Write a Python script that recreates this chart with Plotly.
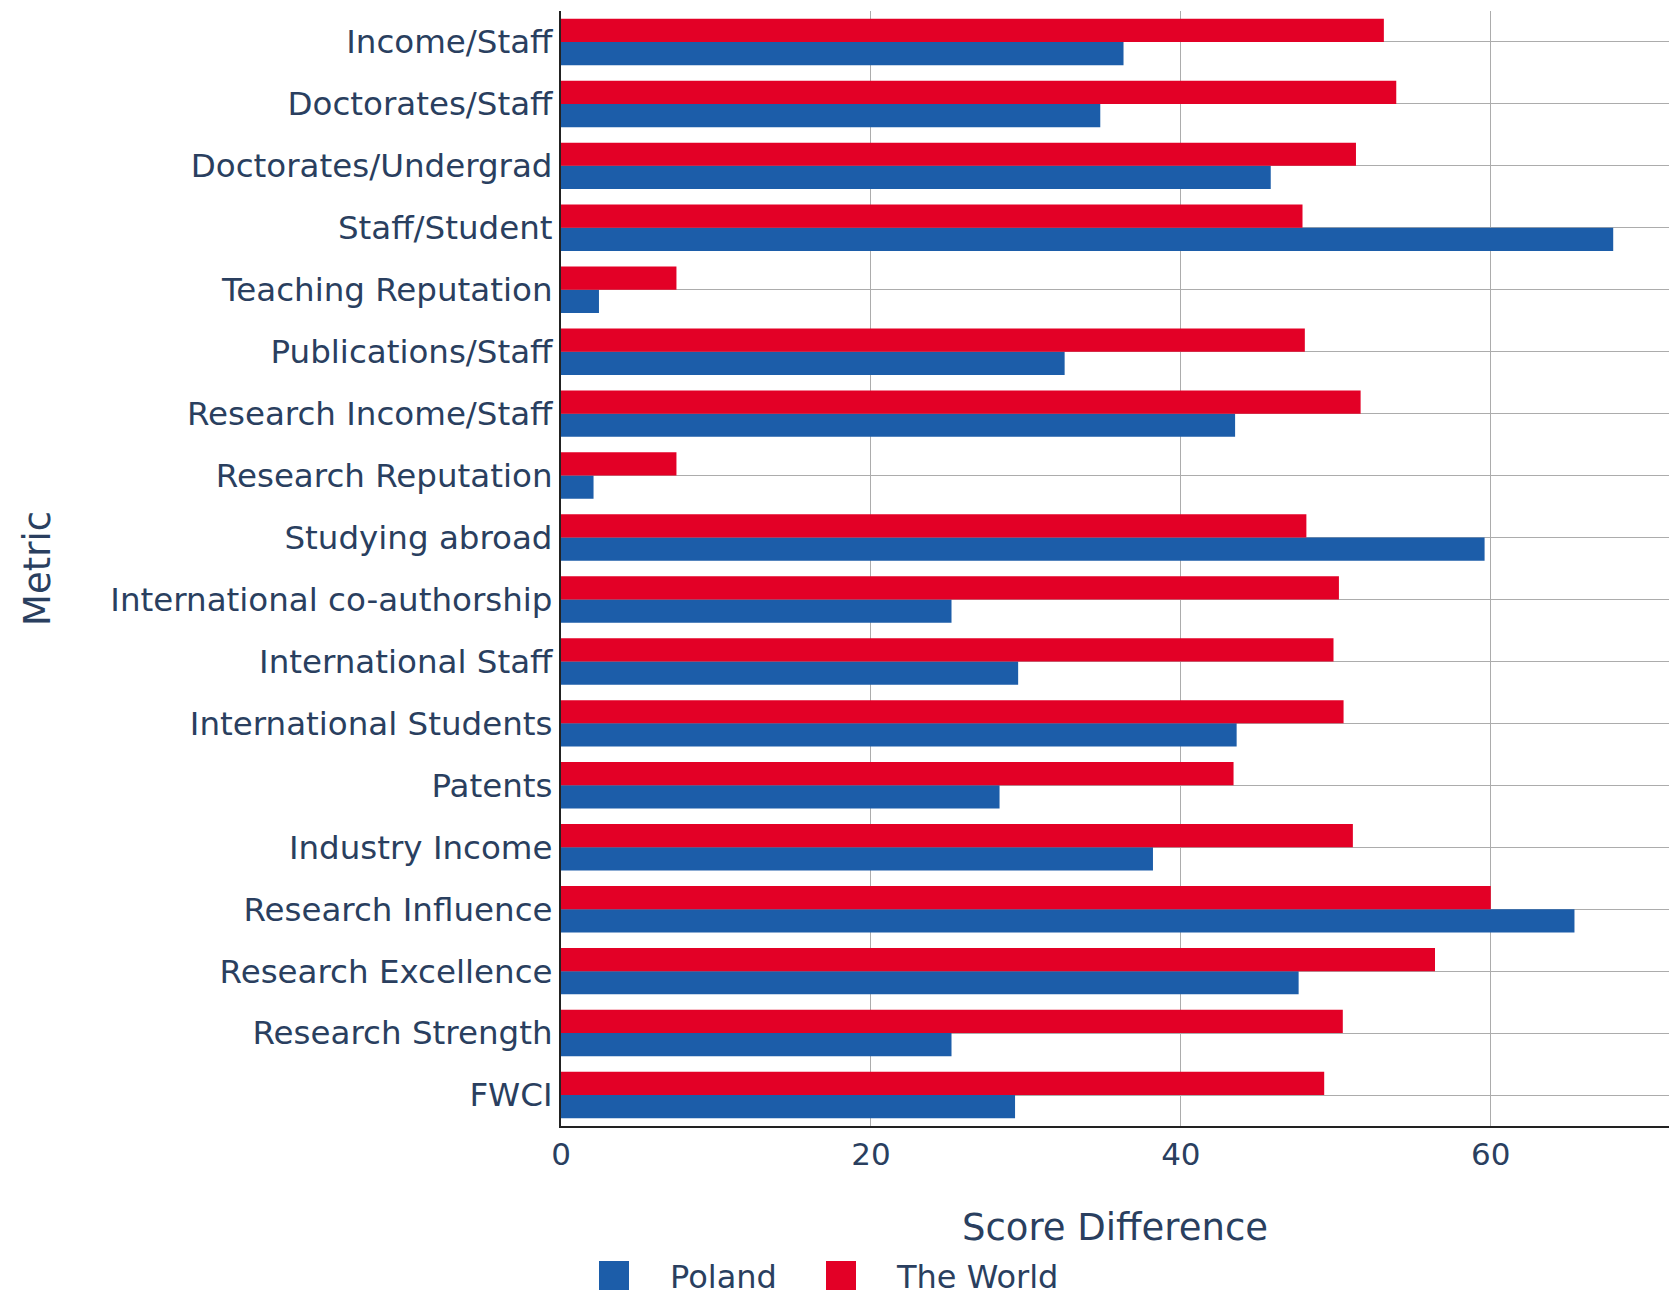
import plotly.graph_objects as go

# Metrics listed from top to bottom of the chart
metrics = [
    "Income/Staff", "Doctorates/Staff", "Doctorates/Undergrad", "Staff/Student",
    "Teaching Reputation", "Publications/Staff", "Research Income/Staff",
    "Research Reputation", "Studying abroad", "International co-authorship",
    "International Staff", "International Students", "Patents", "Industry Income",
    "Research Influence", "Research Excellence", "Research Strength", "FWCI",
]
poland = [36.3, 34.8, 45.8, 67.9, 2.45, 32.5, 43.5, 2.1, 59.6, 25.2,
          29.5, 43.6, 28.3, 38.2, 65.4, 47.6, 25.2, 29.3]
world = [53.1, 53.9, 51.3, 47.85, 7.45, 48.0, 51.6, 7.45, 48.1, 50.2,
         49.85, 50.5, 43.4, 51.1, 60.0, 56.4, 50.45, 49.25]

series_names = ["Poland", "The World"]
series_values = [poland, world]
series_colors = ["#1c5da9", "#e30026"]

FONT = "DejaVu Sans"
TEXT = "#2a3f5f"
GRID = "#acacac"

fig = go.Figure()
for name, vals, col in zip(series_names, series_values, series_colors):
    fig.add_trace(go.Bar(
        y=metrics, x=vals, name=name, orientation="h",
        marker=dict(color=col, line=dict(width=0)),
        showlegend=False,
    ))

# Legend drawn as large swatches below the x-axis title
legend_swatch_x = [38, 265]
legend_text_x = [107, 333]
shapes, annotations = [], []
for name, col, sx, tx in zip(series_names, series_colors, legend_swatch_x, legend_text_x):
    shapes.append(dict(
        type="rect", xref="paper", yref="paper",
        xsizemode="pixel", ysizemode="pixel", xanchor=0, yanchor=0,
        x0=sx, x1=sx + 30, y0=-164, y1=-135,
        fillcolor=col, line=dict(width=0),
    ))
    annotations.append(dict(
        text=name, xref="paper", yref="paper", x=0, y=0,
        xshift=tx, yshift=-151, xanchor="left", yanchor="middle",
        showarrow=False, font=dict(family=FONT, size=32, color=TEXT),
    ))

fig.update_layout(
    width=1669, height=1296,
    margin=dict(l=561, r=0, t=11, b=170),
    paper_bgcolor="white", plot_bgcolor="white",
    font=dict(family=FONT, size=32, color=TEXT),
    barmode="group", bargap=0.25, bargroupgap=0,
    shapes=shapes, annotations=annotations,
    xaxis=dict(
        range=[0, 71.5], dtick=20, tick0=0,
        showgrid=True, gridcolor=GRID, gridwidth=1,
        zeroline=False, showline=True, linecolor="#222222", linewidth=2,
        ticks="", tickfont=dict(size=31),
        title=dict(text="Score Difference", font=dict(size=37), standoff=43),
    ),
    yaxis=dict(
        categoryorder="array", categoryarray=list(reversed(metrics)),
        showgrid=True, gridcolor=GRID, gridwidth=1,
        zeroline=False, showline=True, linecolor="#222222", linewidth=2,
        ticks="", tickfont=dict(size=32.5),
        title=dict(text="Metric", font=dict(size=37), standoff=48),
    ),
)

fig.write_html("out.html")
